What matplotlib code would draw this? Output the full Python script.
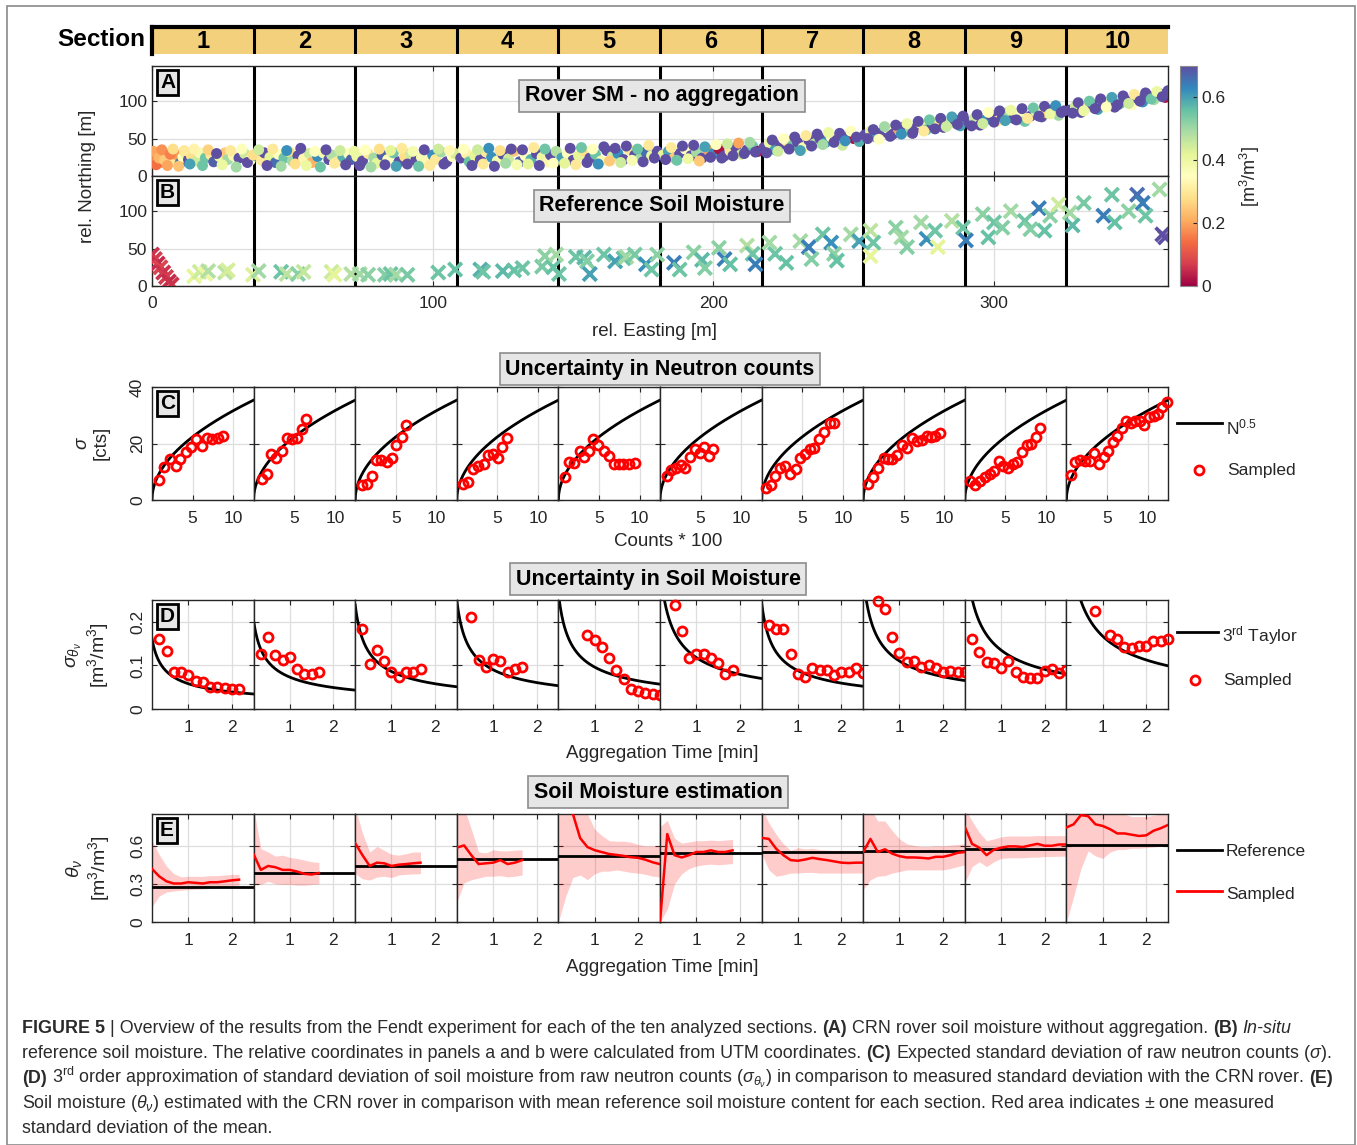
import numpy as np
import matplotlib
matplotlib.use("Agg")
import matplotlib.pyplot as plt
from matplotlib.patches import Rectangle
from matplotlib.lines import Line2D

plt.rcParams["font.family"] = ["Liberation Sans", "DejaVu Sans"]
plt.rcParams["mathtext.fontset"] = "custom"
plt.rcParams["mathtext.rm"] = "Liberation Sans"
plt.rcParams["mathtext.it"] = "Liberation Sans:italic"
plt.rcParams["mathtext.bf"] = "Liberation Sans:bold"

W, H = 1357, 1145
SECTIONS = ["1", "2", "3", "4", "5", "6", "7", "8", "9", "10"]
EAST_MAX = 362.0

# --- A: rover soil moisture, no aggregation (easting, northing, SM) ---
ROVER_E = [1, 2, 3, 4, 5, 6, 7, 8, 9, 10, 11, 12, 13, 14, 16, 17, 19, 21, 22, 24, 26, 27, 29, 31, 33, 35,
           37, 39, 40, 42, 44, 45, 47, 49, 50, 52, 54, 56, 57, 59, 61, 63, 64, 66, 68, 70, 71,
           73, 75, 77, 79, 80, 82, 84, 86, 88, 90, 92, 94, 96, 98, 100, 101, 103, 105, 107, 108,
           110, 112, 113, 115, 117, 119, 121, 123, 125, 127, 129, 131, 133, 135, 137, 139, 141, 142, 144,
           146, 148, 150, 152, 154, 156, 158, 160, 162, 164, 166, 168, 170, 172, 174, 176, 178, 180,
           182, 184, 186, 188, 190, 192, 194, 196, 198, 200, 202, 204, 206, 208, 210, 212, 214, 216,
           218, 220, 222, 224, 226, 228, 230, 232, 234, 236, 238, 240, 242, 244, 246, 248, 250, 252,
           254, 256, 258, 260, 262, 264, 266, 268, 270, 272, 274, 276, 278, 280, 282, 284, 286, 288,
           291, 293, 295, 297, 299, 301, 303, 305, 307, 309, 311, 313, 315, 317, 319, 321, 323, 325,
           327, 329, 331, 333, 335, 337, 339, 341, 343, 345, 347, 349, 351, 353, 355, 357, 359, 361,
           0.5, 1.5, 2.5, 3.5, 4.5, 5.5, 6.5, 7.5, 9.5, 11.5, 13.5, 15, 18, 20, 23, 25, 28, 30, 32, 34, 36,
           38, 41, 43, 46, 48, 51, 53, 55, 58, 60, 62, 65, 67, 69, 72,
           74, 76, 78, 81, 83, 85, 87, 89, 91, 93, 95, 97, 99, 102, 104, 106,
           111, 114, 116, 118, 120, 122, 124, 126, 128, 130, 132, 134, 136, 138, 140, 143,
           147, 149, 151, 153, 155, 157, 159, 161, 163, 165, 167, 169, 171, 173, 175, 177, 179,
           183, 185, 187, 189, 191, 193, 195, 197, 199, 201, 203, 205, 207, 209, 211, 213, 215,
           219, 221, 223, 225, 227, 229, 231, 233, 235, 237, 239, 241, 243, 245, 247, 249, 251,
           255, 257, 259, 261, 263, 265, 267, 269, 271, 273, 275, 277, 279, 281, 283, 285, 287, 289,
           292, 294, 296, 298, 300, 302, 304, 306, 308, 310, 312, 314, 316, 318, 320, 322, 324,
           328, 330, 332, 334, 336, 338, 340, 342, 344, 346, 348, 350, 352, 354, 356, 358, 360, 362]
ROVER_N = [26, 22, 30, 18, 27, 24, 32, 20, 28, 17, 25, 30, 22, 27, 20, 31, 24, 28, 19, 26, 31, 22, 27, 24, 30, 21,
           27, 21, 31, 25, 18, 29, 24, 32, 20, 27, 23, 30, 18, 26, 31, 22, 28, 19, 25, 30, 22,
           26, 20, 30, 24, 17, 28, 22, 31, 19, 26, 30, 21, 25, 17, 28, 22, 32, 19, 26, 30,
           24, 30, 19, 27, 22, 32, 25, 20, 29, 23, 33, 19, 27, 22, 30, 25, 19, 28, 33,
           24, 30, 21, 27, 33, 24, 29, 20, 34, 26, 30, 22, 35, 28, 24, 32, 27, 33,
           28, 33, 24, 30, 36, 27, 32, 24, 35, 30, 36, 27, 33, 38, 29, 35, 40, 33,
           38, 44, 35, 42, 47, 40, 45, 38, 48, 43, 50, 45, 52, 48, 41, 53, 50, 46,
           55, 60, 52, 58, 64, 56, 61, 66, 59, 64, 70, 62, 68, 73, 65, 70, 75, 67,
           72, 77, 68, 75, 81, 73, 79, 85, 77, 82, 73, 80, 86, 79, 84, 89, 81, 87,
           88, 93, 85, 91, 96, 89, 94, 99, 92, 97, 101, 95, 104, 99, 107, 102, 110, 105,
           33, 15, 24, 35, 21, 14, 29, 36, 13, 34, 16, 36, 14, 35, 30, 15, 34, 12, 36, 18, 28,
           35, 14, 36, 13, 34, 16, 37, 14, 33, 12, 35, 17, 34, 15, 33,
           14, 35, 12, 36, 15, 34, 13, 37, 16, 33, 13, 35, 14, 36, 16, 34,
           36, 14, 35, 16, 37, 13, 34, 17, 36, 15, 35, 16, 38, 14, 36, 17,
           17, 37, 15, 38, 18, 36, 16, 39, 20, 37, 18, 40, 21, 36, 19, 41, 24,
           22, 38, 21, 40, 23, 41, 20, 39, 25, 42, 24, 43, 27, 44, 30, 45, 32,
           31, 48, 33, 50, 36, 52, 34, 54, 40, 56, 42, 58, 45, 57, 47, 60, 52,
           50, 62, 49, 66, 53, 68, 56, 70, 57, 73, 60, 75, 63, 77, 66, 79, 69, 80,
           67, 82, 70, 85, 72, 87, 74, 88, 75, 90, 77, 91, 80, 93, 83, 94, 85,
           84, 98, 87, 100, 90, 103, 92, 105, 95, 107, 97, 109, 100, 111, 103, 113, 106, 114]
ROVER_SM = [0.15, 0.18, 0.20, 0.17, 0.22, 0.12, 0.25, 0.30, 0.19, 0.65, 0.35, 0.42, 0.70, 0.28, 0.45, 0.38,
            0.55, 0.30, 0.68, 0.40, 0.25, 0.50, 0.33, 0.70, 0.45, 0.36,
            0.60, 0.30, 0.70, 0.42, 0.66, 0.35, 0.55, 0.28, 0.50, 0.70, 0.33, 0.45, 0.22, 0.62, 0.38,
            0.70, 0.48, 0.30, 0.58, 0.35, 0.68,
            0.40, 0.70, 0.30, 0.50, 0.42, 0.68, 0.35, 0.55, 0.70, 0.28, 0.45, 0.70, 0.38, 0.33, 0.62,
            0.30, 0.50, 0.70, 0.36, 0.44,
            0.70, 0.32, 0.55, 0.42, 0.70, 0.30, 0.62, 0.38, 0.70, 0.45, 0.25, 0.68, 0.35, 0.58, 0.70,
            0.40, 0.33, 0.70, 0.48,
            0.60, 0.35, 0.70, 0.42, 0.28, 0.70, 0.55, 0.38, 0.70, 0.45, 0.62, 0.70, 0.30, 0.70, 0.50,
            0.66, 0.40, 0.70,
            0.42, 0.60, 0.25, 0.70, 0.35, 0.70, 0.50, 0.70, 0.20, 0.62, 0.02, 0.70, 0.30, 0.70, 0.45,
            0.70, 0.55, 0.02,
            0.70, 0.40, 0.60, 0.70, 0.30, 0.55, 0.70, 0.38, 0.70, 0.48, 0.70, 0.62, 0.35, 0.70, 0.45,
            0.70, 0.02, 0.58,
            0.70, 0.42, 0.60, 0.70, 0.35, 0.70, 0.20, 0.70, 0.50, 0.70, 0.40, 0.55, 0.70, 0.30, 0.70,
            0.45, 0.70, 0.60,
            0.70, 0.45, 0.70, 0.62, 0.70, 0.30, 0.70, 0.50, 0.70, 0.35, 0.55, 0.70, 0.40, 0.70, 0.25,
            0.70, 0.50, 0.70,
            0.70, 0.45, 0.70, 0.30, 0.70, 0.60, 0.70, 0.40, 0.70, 0.55, 0.70, 0.35, 0.70, 0.62, 0.70,
            0.50, 0.70, 0.02,
            0.20, 0.14, 0.22, 0.18, 0.25, 0.20, 0.16, 0.28, 0.24, 0.30, 0.60, 0.32, 0.55, 0.26, 0.70,
            0.40, 0.30, 0.50, 0.36, 0.70, 0.28,
            0.45, 0.70, 0.30, 0.50, 0.62, 0.28, 0.70, 0.40, 0.35, 0.55, 0.70, 0.30, 0.45, 0.70, 0.40,
            0.70, 0.35, 0.50, 0.28, 0.70, 0.42, 0.60, 0.30, 0.70, 0.38, 0.55, 0.70, 0.30, 0.45, 0.70, 0.33,
            0.35, 0.70, 0.45, 0.30, 0.62, 0.70, 0.28, 0.50, 0.70, 0.38, 0.70, 0.42, 0.30, 0.70, 0.55, 0.35,
            0.42, 0.70, 0.30, 0.55, 0.70, 0.35, 0.62, 0.70, 0.25, 0.70, 0.45, 0.70, 0.38, 0.55, 0.70,
            0.30, 0.70,
            0.70, 0.30, 0.55, 0.70, 0.40, 0.70, 0.25, 0.60, 0.70, 0.35, 0.70, 0.45, 0.70, 0.20, 0.70,
            0.50, 0.70,
            0.70, 0.70, 0.45, 0.35, 0.70, 0.70, 0.60, 0.30, 0.70, 0.70, 0.50, 0.40, 0.70, 0.70, 0.62,
            0.35, 0.70,
            0.70, 0.70, 0.35, 0.50, 0.70, 0.70, 0.62, 0.40, 0.70, 0.70, 0.30, 0.55, 0.70, 0.70, 0.45,
            0.60, 0.70, 0.70,
            0.70, 0.70, 0.45, 0.35, 0.70, 0.70, 0.60, 0.40, 0.70, 0.70, 0.30, 0.55, 0.70, 0.70, 0.40,
            0.62, 0.70,
            0.70, 0.70, 0.40, 0.55, 0.70, 0.70, 0.35, 0.60, 0.70, 0.70, 0.45, 0.30, 0.70, 0.70, 0.55,
            0.40, 0.70, 0.70]

# --- B: in-situ reference soil moisture ---
REF_E = [0, 1, 2, 3, 4, 5, 6, 7,
         15, 17, 19, 20, 26, 27, 36, 38, 46, 48, 52, 54, 64, 65, 71, 74, 77, 83, 85, 87, 91,
         102, 108, 117, 118, 125, 129, 132, 139, 140, 143, 144, 145, 151, 154, 155, 156,
         161, 165, 168, 169, 172, 176, 178, 180, 186, 188, 193, 196, 197,
         202, 204, 206, 212, 214, 215, 220, 222, 226, 231, 234, 235, 239, 242, 243, 244, 249, 252,
         256, 257, 256, 265, 267, 269, 274, 276, 279, 280, 285, 289, 290, 296, 298, 300, 303, 306,
         311, 313, 316, 318, 320, 323, 327, 328, 332, 339, 342, 343, 348, 351, 353, 354, 359, 360, 361]
REF_N = [42, 36, 30, 25, 18, 12, 6, 2,
         13, 19, 16, 20, 18, 21, 15, 20, 19, 16, 16, 19, 19, 15, 16, 16, 15, 15, 16, 15, 15,
         18, 22, 22, 19, 20, 21, 24, 26, 40, 25, 42, 16, 39, 38, 33, 16,
         42, 33, 37, 39, 42, 29, 22, 42, 31, 22, 45, 35, 24,
         51, 36, 29, 54, 43, 29, 58, 43, 31, 60, 52, 36, 69, 58, 43, 34, 69, 60,
         74, 58, 40, 78, 65, 52, 85, 63, 74, 52, 87, 78, 61, 96, 65, 85, 78, 100,
         87, 76, 104, 74, 94, 109, 98, 81, 111, 94, 122, 85, 100, 122, 111, 94, 129, 69, 65]
REF_SM = [0.06, 0.07, 0.05, 0.08, 0.06, 0.07, 0.05, 0.06,
          0.42, 0.45, 0.40, 0.48, 0.47, 0.44, 0.43, 0.50, 0.55, 0.47, 0.52, 0.46, 0.45, 0.42,
          0.48, 0.50, 0.52, 0.53, 0.55, 0.50, 0.54,
          0.55, 0.56, 0.58, 0.55, 0.57, 0.56, 0.55, 0.54, 0.52, 0.56, 0.50, 0.55, 0.55, 0.57, 0.53,
          0.60, 0.55, 0.60, 0.56, 0.50, 0.54, 0.62, 0.55, 0.52, 0.64, 0.55, 0.52, 0.57, 0.53,
          0.52, 0.64, 0.56, 0.48, 0.55, 0.64, 0.50, 0.55, 0.56, 0.50, 0.64, 0.53, 0.55, 0.62, 0.52,
          0.56, 0.50, 0.60,
          0.47, 0.55, 0.42, 0.52, 0.50, 0.53, 0.50, 0.62, 0.55, 0.42, 0.48, 0.55, 0.64, 0.52, 0.56,
          0.55, 0.53, 0.50,
          0.55, 0.53, 0.64, 0.56, 0.52, 0.45, 0.50, 0.57, 0.54, 0.64, 0.55, 0.56, 0.52, 0.66, 0.64,
          0.55, 0.50, 0.72, 0.72]

# --- C: sigma of raw neutron counts (x: counts*100) ---
C_COUNTS = [
    [0.8, 1.5, 2.2, 2.9, 3.5, 4.2, 4.8, 5.4, 6.1, 6.8, 7.4, 8.1, 8.7],
    [1.0, 1.6, 2.1, 2.8, 3.5, 4.1, 4.7, 5.4, 6.0, 6.5],
    [0.8, 1.4, 2.1, 2.6, 3.2, 3.9, 4.5, 5.0, 5.7, 6.3],
    [0.8, 1.4, 2.0, 2.6, 3.3, 3.9, 4.4, 5.1, 5.6, 6.2],
    [0.8, 1.3, 1.9, 2.6, 3.1, 3.8, 4.3, 4.9, 5.6, 6.2, 6.8, 7.4, 8.0, 8.7, 9.4],
    [0.8, 1.4, 2.0, 2.6, 3.1, 3.7, 4.3, 4.9, 5.4, 6.0, 6.5],
    [0.5, 1.1, 1.7, 2.3, 2.9, 3.5, 4.2, 4.7, 5.3, 5.9, 6.4, 7.1, 7.7, 8.4, 8.9],
    [0.6, 1.2, 1.8, 2.5, 3.1, 3.6, 4.2, 4.8, 5.4, 6.0, 6.6, 7.2, 7.8, 8.4, 8.8, 9.4],
    [0.6, 1.2, 1.9, 2.5, 3.1, 3.6, 4.2, 4.7, 5.3, 5.9, 6.4, 7.0, 7.6, 8.1, 8.7, 9.2],
    [0.6, 1.1, 1.7, 2.3, 2.9, 3.4, 4.0, 4.6, 5.1, 5.7, 6.2, 6.9, 7.3, 7.9, 8.5, 9.0, 9.5,
     10.2, 10.8, 11.3, 11.8, 12.4],
]
C_SIGMA = [
    [7.0, 11.8, 14.5, 12.1, 14.5, 17.0, 18.8, 21.6, 19.2, 22.1, 21.6, 22.1, 22.8],
    [7.3, 9.2, 16.2, 15.0, 17.5, 22.1, 21.6, 22.1, 25.3, 28.7],
    [5.3, 5.8, 8.5, 14.3, 14.3, 13.3, 15.0, 19.4, 22.3, 26.7],
    [5.6, 6.5, 10.9, 12.1, 12.8, 15.8, 16.2, 15.0, 18.9, 22.1],
    [8.2, 13.3, 13.1, 17.2, 15.3, 17.5, 21.6, 19.4, 17.3, 15.4, 12.6, 12.6, 12.6, 12.6, 13.1],
    [8.5, 10.7, 11.5, 12.4, 11.2, 15.3, 17.9, 16.7, 18.7, 15.5, 18.2],
    [4.1, 5.3, 8.5, 11.5, 11.9, 9.1, 10.9, 15.0, 16.4, 18.2, 18.4, 21.6, 24.2, 27.4, 27.4],
    [5.6, 8.0, 11.4, 15.0, 14.5, 14.5, 16.0, 19.6, 18.4, 21.8, 20.8, 21.3, 22.8, 22.3, 22.8, 23.8],
    [6.8, 5.3, 6.8, 8.2, 9.2, 10.2, 13.8, 12.1, 11.2, 12.6, 13.3, 17.0, 19.4, 19.9, 22.3, 25.5],
    [9.0, 13.3, 14.1, 13.8, 13.8, 16.7, 12.8, 15.3, 17.5, 20.4, 22.8, 25.5, 27.9, 27.2, 28.1,
     28.1, 26.4, 29.3, 29.6, 30.5, 33.0, 34.7],
]

# --- D: sigma of soil moisture; x in 10-s aggregation steps ---
D_STEPS = [
    [2, 3, 4, 5, 6, 7, 8, 9, 10, 11, 12, 13],
    [2, 3, 4, 5, 6, 7, 8, 9, 10],
    [2, 3, 4, 5, 6, 7, 8, 9, 10],
    [3, 4, 5, 6, 7, 8, 9, 10],
    [5, 6, 7, 8, 9, 10, 11, 12, 13, 14, 15],
    [3, 4, 5, 6, 7, 8, 9, 10, 11],
    [2, 3, 4, 5, 6, 7, 8, 9, 10, 11, 12, 13, 14, 15],
    [3, 4, 5, 6, 7, 8, 9, 10, 11, 12, 13, 14, 15],
    [2, 3, 4, 5, 6, 7, 8, 9, 10, 11, 12, 13, 14, 15],
    [5, 7, 8, 9, 10, 11, 12, 13, 14, 15],
]
D_SIGMA = [
    [0.160, 0.132, 0.085, 0.085, 0.077, 0.065, 0.062, 0.050, 0.050, 0.048, 0.045, 0.045],
    [0.127, 0.164, 0.124, 0.112, 0.120, 0.092, 0.080, 0.080, 0.085],
    [0.183, 0.103, 0.135, 0.111, 0.084, 0.073, 0.084, 0.084, 0.092],
    [0.210, 0.112, 0.097, 0.115, 0.110, 0.084, 0.091, 0.097],
    [0.170, 0.158, 0.143, 0.118, 0.089, 0.069, 0.047, 0.042, 0.037, 0.034, 0.033],
    [0.238, 0.178, 0.118, 0.127, 0.127, 0.117, 0.106, 0.080, 0.090],
    [0.192, 0.184, 0.184, 0.127, 0.080, 0.073, 0.095, 0.089, 0.089, 0.079, 0.086, 0.086, 0.094, 0.083],
    [0.247, 0.229, 0.165, 0.129, 0.107, 0.111, 0.097, 0.100, 0.094, 0.085, 0.088, 0.085, 0.084],
    [0.160, 0.131, 0.108, 0.105, 0.094, 0.111, 0.086, 0.073, 0.071, 0.071, 0.088, 0.091, 0.083, 0.089],
    [0.225, 0.170, 0.160, 0.143, 0.141, 0.144, 0.145, 0.155, 0.156, 0.160],
]
# 3rd order Taylor: sigma at 1 min aggregation, decays as t^-TAYLOR_EXP
TAYLOR_1MIN = [0.058, 0.073, 0.086, 0.090, 0.096, 0.118, 0.088, 0.110, 0.135, 0.167]
TAYLOR_EXP = 0.57

# --- E: soil moisture estimation (steps of 10 s, starting at step 1) ---
E_REF = [0.277, 0.385, 0.441, 0.495, 0.523, 0.544, 0.551, 0.562, 0.574, 0.603]
E_MEAN = [
    [0.418, 0.359, 0.320, 0.303, 0.303, 0.313, 0.308, 0.303, 0.313, 0.313, 0.320, 0.328, 0.333],
    [0.533, 0.410, 0.441, 0.431, 0.410, 0.410, 0.397, 0.379, 0.374, 0.385],
    [0.620, 0.526, 0.441, 0.467, 0.462, 0.441, 0.451, 0.456, 0.462, 0.467],
    [0.585, 0.603, 0.526, 0.456, 0.462, 0.467, 0.487, 0.456, 0.467, 0.487],
    [1.300, 1.000, 0.850, 0.660, 0.590, 0.565, 0.550, 0.535, 0.528, 0.520, 0.510, 0.505, 0.490, 0.470, 0.455],
    [0.000, 0.692, 0.526, 0.508, 0.526, 0.551, 0.551, 0.564, 0.551, 0.551, 0.564],
    [0.662, 0.654, 0.577, 0.526, 0.487, 0.482, 0.492, 0.505, 0.495, 0.487, 0.477, 0.467, 0.464, 0.467, 0.467],
    [0.551, 0.654, 0.551, 0.572, 0.538, 0.518, 0.508, 0.508, 0.505, 0.500, 0.513, 0.513, 0.526, 0.544, 0.551],
    [0.749, 0.615, 0.585, 0.526, 0.569, 0.585, 0.595, 0.595, 0.590, 0.603, 0.615, 0.600, 0.600, 0.610, 0.610],
    [0.744, 0.769, 0.841, 0.833, 0.769, 0.756, 0.731, 0.697, 0.697, 0.687, 0.677, 0.682, 0.718, 0.738, 0.764],
]
E_UPPER = [
    [0.640, 0.530, 0.440, 0.380, 0.355, 0.360, 0.360, 0.360, 0.365, 0.365, 0.370, 0.375, 0.375],
    [0.900, 0.577, 0.551, 0.518, 0.526, 0.508, 0.500, 0.487, 0.474, 0.469],
    [0.900, 0.700, 0.550, 0.595, 0.564, 0.533, 0.526, 0.538, 0.551, 0.551],
    [0.900, 0.900, 0.731, 0.551, 0.544, 0.569, 0.560, 0.560, 0.565, 0.569],
    [1.500, 1.300, 1.000, 0.900, 0.850, 0.730, 0.680, 0.640, 0.636, 0.636, 0.628, 0.610, 0.600, 0.600, 0.600],
    [0.750, 0.800, 0.660, 0.620, 0.630, 0.640, 0.640, 0.645, 0.640, 0.645, 0.650],
    [0.900, 0.780, 0.690, 0.615, 0.564, 0.585, 0.575, 0.580, 0.570, 0.566, 0.564, 0.564, 0.564, 0.564, 0.564],
    [0.900, 0.900, 0.795, 0.795, 0.718, 0.654, 0.615, 0.603, 0.595, 0.595, 0.600, 0.600, 0.605, 0.610, 0.615],
    [0.900, 0.795, 0.705, 0.640, 0.654, 0.670, 0.677, 0.677, 0.677, 0.677, 0.680, 0.680, 0.680, 0.680, 0.679],
    [1.000, 1.000, 1.000, 1.000, 0.950, 0.900, 0.880, 0.860, 0.850, 0.830, 0.830, 0.830, 0.840, 0.850, 0.860],
]
E_LOWER = [
    [0.120, 0.205, 0.236, 0.244, 0.250, 0.255, 0.258, 0.260, 0.265, 0.270, 0.278, 0.285, 0.290],
    [0.300, 0.295, 0.320, 0.300, 0.295, 0.295, 0.290, 0.290, 0.295, 0.300],
    [0.380, 0.340, 0.330, 0.354, 0.360, 0.350, 0.370, 0.375, 0.378, 0.380],
    [0.154, 0.308, 0.333, 0.346, 0.360, 0.360, 0.365, 0.355, 0.360, 0.370],
    [0.000, 0.200, 0.350, 0.370, 0.333, 0.380, 0.400, 0.400, 0.410, 0.400, 0.390, 0.385, 0.375, 0.360, 0.355],
    [0.000, 0.100, 0.300, 0.380, 0.420, 0.440, 0.450, 0.455, 0.450, 0.455, 0.460],
    [0.540, 0.410, 0.360, 0.370, 0.385, 0.385, 0.390, 0.390, 0.385, 0.385, 0.385, 0.385, 0.385, 0.385, 0.385],
    [0.256, 0.333, 0.360, 0.365, 0.385, 0.397, 0.410, 0.410, 0.410, 0.410, 0.410, 0.410, 0.420, 0.436, 0.449],
    [0.308, 0.436, 0.474, 0.436, 0.474, 0.500, 0.505, 0.505, 0.505, 0.510, 0.510, 0.515, 0.515, 0.518, 0.518],
    [0.000, 0.200, 0.420, 0.560, 0.520, 0.500, 0.550, 0.570, 0.570, 0.580, 0.580, 0.585, 0.590, 0.595, 0.600],
]

DARK = "#262626"
GRID = "#dedede"
SEC_YELLOW = "#f3d07c"
BOX_GRAY = "#e6e6e6"
CAP = "#2b2b2b"

fig = plt.figure(figsize=(W / 100, H / 100), dpi=100)

def px_ax(x, y, w, h):
    return fig.add_axes([x / W, 1 - (y + h) / H, w / W, h / H])

def fx(x):
    return x / W

def fy(y):
    return 1 - y / H

def title_box(x, y, s):
    fig.text(fx(x), fy(y), s, ha="center", va="center", fontsize=15.5, fontweight="bold",
             bbox=dict(boxstyle="square,pad=0.26", fc=BOX_GRAY, ec="#8c8c8c", lw=1.2))

def letter_box(ax, s):
    ax.annotate(s, xy=(0, 1), xycoords="axes fraction", xytext=(8, -7),
                textcoords="offset pixels", ha="left", va="top", fontsize=15,
                fontweight="bold", zorder=10,
                bbox=dict(boxstyle="square,pad=0.16", fc=BOX_GRAY, ec="black", lw=2))

def style_axes(ax):
    for s in ax.spines.values():
        s.set_color(DARK)
        s.set_linewidth(1.0)
    ax.tick_params(direction="in", top=True, right=True, length=3.5, width=0.8,
                   labelsize=12.5, colors=DARK)
    ax.grid(True, color=GRID, lw=0.9)
    ax.set_axisbelow(True)

# figure frame
fig.add_artist(Rectangle((fx(7), 0), fx(1355) - fx(7), fy(6), transform=fig.transFigure,
                         fill=False, ec="#8a8a8a", lw=1.2))

X0, XW = 152, 1016
SW = XW / 10.0

# ---------- section bar ----------
ax_s = px_ax(X0, 27, XW, 27)
ax_s.set_xlim(0, 10)
ax_s.set_ylim(0, 1)
ax_s.set_facecolor(SEC_YELLOW)
ax_s.set_xticks([])
ax_s.set_yticks([])
for k in ("bottom", "right"):
    ax_s.spines[k].set_visible(False)
for k in ("top", "left"):
    ax_s.spines[k].set_linewidth(3)
    ax_s.spines[k].set_color("black")
for i in range(1, 10):
    ax_s.axvline(i, color="black", lw=2.2)
for i, lab in enumerate(SECTIONS):
    ax_s.text(i + 0.5, 0.45, lab, ha="center", va="center", fontsize=17, fontweight="bold")
fig.text(fx(145), fy(40), "Section", ha="right", va="center", fontsize=17.5, fontweight="bold")

# ---------- A & B ----------
cmap = plt.get_cmap("Spectral")
bounds = [EAST_MAX / 10 * i for i in range(1, 10)]

ax_a = px_ax(X0, 66, XW, 110)
ax_b = px_ax(X0, 176, XW, 110)
for ax in (ax_a, ax_b):
    ax.set_xlim(0, EAST_MAX)
    ax.set_ylim(0, 147)
    ax.set_xticks([0, 100, 200, 300])
    ax.set_yticks([0, 50, 100])
    style_axes(ax)
    for b in bounds:
        ax.axvline(b, color="black", lw=2.2, zorder=1)
ax_a.set_xticklabels([])
ax_b.set_xticklabels(["0", "100", "200", "300"])
ax_b.tick_params(axis="x", pad=7)

sc = ax_a.scatter(ROVER_E, ROVER_N, c=ROVER_SM, cmap=cmap, vmin=0, vmax=0.7, s=62,
                  edgecolors="none", zorder=3)
ax_b.scatter(REF_E, REF_N, c=REF_SM, cmap=cmap, vmin=0, vmax=0.7, marker="x", s=95,
             linewidths=2.7, zorder=3)
letter_box(ax_a, "A")
letter_box(ax_b, "B")
title_box(662, 96, "Rover SM - no aggregation")
title_box(662, 206, "Reference Soil Moisture")
fig.text(fx(654), fy(331), "rel. Easting [m]", ha="center", va="center", fontsize=13.5, color=DARK)
fig.text(fx(88), fy(176), "rel. Northing [m]", ha="center", va="center", rotation=90,
         fontsize=13.5, color=DARK)

cax = px_ax(1180, 66, 17, 220)
cb = fig.colorbar(sc, cax=cax, ticks=[0, 0.2, 0.4, 0.6])
cb.ax.set_yticklabels(["0", "0.2", "0.4", "0.6"])
cb.ax.tick_params(labelsize=12.5, colors=DARK, direction="in", length=3)
cb.outline.set_edgecolor("#8c8c8c")
fig.text(fx(1250), fy(176), "[m$^3$/m$^3$]", ha="center", va="center", rotation=90,
         fontsize=13, color=DARK)

# ---------- small multiples ----------
def small_panels(top, height, xlim, ylim, xticks, yticks, ylabels):
    axes = []
    for i in range(10):
        ax = px_ax(X0 + i * SW, top, SW, height)
        ax.set_xlim(*xlim)
        ax.set_ylim(*ylim)
        ax.set_xticks(xticks)
        ax.set_yticks(yticks)
        style_axes(ax)
        ax.tick_params(axis="x", pad=8)
        if i == 0:
            ax.set_yticklabels(ylabels, rotation=90, va="center")
            ax.tick_params(axis="y", pad=5)
        else:
            ax.set_yticklabels([])
        axes.append(ax)
    return axes

# C
axes_c = small_panels(387, 113, (0, 12.5), (0, 40), [5, 10], [0, 20, 40], ["0", "20", "40"])
n_curve = np.linspace(0, 12.5, 300)
for i, ax in enumerate(axes_c):
    ax.plot(n_curve, np.sqrt(n_curve * 100), color="black", lw=2)
    ax.plot(C_COUNTS[i], C_SIGMA[i], "o", mfc="none", mec="red", mew=2, ms=6.5, clip_on=False, zorder=4)
letter_box(axes_c[0], "C")
title_box(660, 369, "Uncertainty in Neutron counts")
fig.text(fx(668), fy(541), "Counts * 100", ha="center", va="center", fontsize=13.5, color=DARK)
fig.text(fx(92), fy(443), "$\\sigma$\n[cts]", ha="center", va="center", rotation=90,
         fontsize=13.5, color=DARK, linespacing=1.1)

# D
T0, T1 = 1 / 6.0, 2.5
axes_d = small_panels(600, 109, (T0, T1), (0, 0.25), [1, 2], [0, 0.1, 0.2], ["0", "0.1", "0.2"])
t_curve = np.linspace(T0, T1, 300)
for i, ax in enumerate(axes_d):
    ax.plot(t_curve, TAYLOR_1MIN[i] * t_curve ** (-TAYLOR_EXP), color="black", lw=2)
    t = np.array(D_STEPS[i]) / 6.0
    ax.plot(t, D_SIGMA[i], "o", mfc="none", mec="red", mew=2, ms=6.5, clip_on=False, zorder=4)
letter_box(axes_d[0], "D")
title_box(658, 579, "Uncertainty in Soil Moisture")
fig.text(fx(662), fy(754), "Aggregation Time [min]", ha="center", va="center", fontsize=13.5,
         color=DARK)
fig.text(fx(88), fy(655), "$\\sigma_{\\theta_\\nu}$\n[m$^3$/m$^3$]", ha="center", va="center",
         rotation=90, fontsize=14, color=DARK, linespacing=1.1)

# E
axes_e = small_panels(814, 108, (T0, T1), (0, 0.85), [1, 2], [0, 0.3, 0.6], ["0", "0.3", "0.6"])
for i, ax in enumerate(axes_e):
    t = np.arange(1, len(E_MEAN[i]) + 1) / 6.0
    ax.fill_between(t, E_LOWER[i], E_UPPER[i], color=(1, 0, 0, 0.2), lw=0, zorder=2)
    ax.axhline(E_REF[i], color="black", lw=2, zorder=3)
    ax.plot(t, E_MEAN[i], color="red", lw=1.8, zorder=4)
letter_box(axes_e[0], "E")
title_box(658, 792, "Soil Moisture estimation")
fig.text(fx(662), fy(968), "Aggregation Time [min]", ha="center", va="center", fontsize=13.5,
         color=DARK)
fig.text(fx(88), fy(868), "$\\theta_\\nu$\n[m$^3$/m$^3$]", ha="center", va="center",
         rotation=90, fontsize=14, color=DARK, linespacing=1.1)

# ---------- legends ----------
def leg_line(x1, x2, y, color):
    fig.add_artist(Line2D([fx(x1), fx(x2)], [fy(y), fy(y)], transform=fig.transFigure,
                          color=color, lw=2))

def leg_circle(x, y):
    fig.add_artist(Line2D([fx(x)], [fy(y)], transform=fig.transFigure, marker="o",
                          mfc="none", mec="red", mew=2, ms=6.5, ls="none"))

def leg_text(x, y, s):
    fig.text(fx(x), fy(y), s, ha="left", va="center", fontsize=12.5, color=DARK)

leg_line(1177, 1222, 423, "black")
leg_text(1226, 427, "N$^{0.5}$")
leg_circle(1199, 470)
leg_text(1227, 471, "Sampled")

leg_line(1177, 1218, 632, "black")
leg_text(1222, 636, "3$^{\\rm rd}$ Taylor")
leg_circle(1195, 680)
leg_text(1223, 681, "Sampled")

leg_line(1177, 1222, 850, "black")
leg_text(1226, 851, "Reference")
leg_line(1177, 1222, 891, "red")
leg_text(1226, 894, "Sampled")

# ---------- caption ----------
renderer = fig.canvas.get_renderer()
CAP_SIZE = 12.9

def text_width(s, **kw):
    t = fig.text(0, 0, s, fontsize=CAP_SIZE, **kw)
    w = t.get_window_extent(renderer=renderer).width
    t.remove()
    return w

SPACE = text_width("a a") - text_width("aa")

def caption_line(y, runs):
    x = 22
    for s, style in runs:
        kw = {}
        if style == "b":
            kw["fontweight"] = "bold"
        elif style == "i":
            kw["fontstyle"] = "italic"
        body = s.rstrip(" ")
        t = fig.text(fx(x), fy(y), body, fontsize=CAP_SIZE, va="baseline", ha="left",
                     color=CAP, **kw)
        x += t.get_window_extent(renderer=renderer).width
        x += SPACE * (len(s) - len(body))

caption_line(1033, [("FIGURE 5 ", "b"), ("| Overview of the results from the Fendt experiment for each of "
                     "the ten analyzed sections. ", "n"), ("(A) ", "b"),
                    ("CRN rover soil moisture without aggregation. ", "n"), ("(B) ", "b"), ("In-situ", "i")])
caption_line(1058, [("reference soil moisture. The relative coordinates in panels a and b were calculated "
                     "from UTM coordinates. ", "n"), ("(C) ", "b"),
                    ("Expected standard deviation of raw neutron counts ($\\sigma$).", "n")])
caption_line(1083, [("(D) ", "b"), ("3$^{\\rm rd}$ order approximation of standard deviation of soil "
                     "moisture from raw neutron counts ($\\sigma_{\\theta_\\nu}$) in comparison to measured "
                     "standard deviation with the CRN rover. ", "n"), ("(E)", "b")])
caption_line(1108, [("Soil moisture ($\\theta_\\nu$) estimated with the CRN rover in comparison with mean "
                     "reference soil moisture content for each section. Red area indicates \u00b1 one measured",
                     "n")])
caption_line(1133, [("standard deviation of the mean.", "n")])

fig.savefig("out.png", dpi=100, facecolor="white")
